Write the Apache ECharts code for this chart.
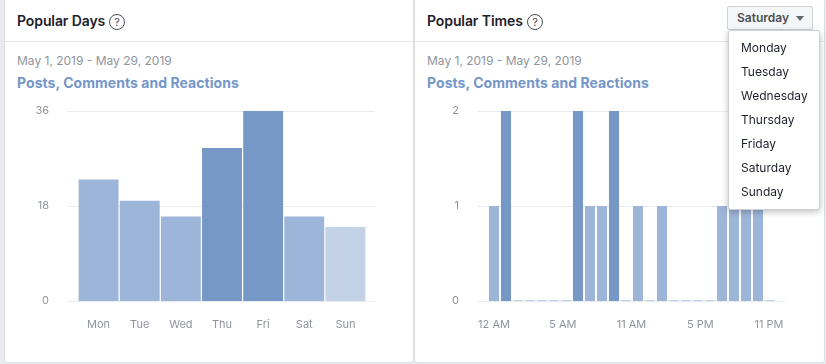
<!DOCTYPE html>
<html>
<head>
<meta charset="utf-8">
<title>Popular Days and Times</title>
<script src="https://cdn.jsdelivr.net/npm/echarts@6/dist/echarts.min.js"></script>
<style>
  html, body { margin: 0; padding: 0; background: #e9ebee; }
  body { width: 826px; height: 364px; position: relative; overflow: hidden; font-family: Inter, "Liberation Sans", sans-serif; }
  .card { position: absolute; top: -2px; height: 365px; background: #fff; border: 1px solid #dddfe2; border-radius: 3px; box-sizing: border-box; }
  .card.left { left: 4px; width: 410px; }
  .card.right { left: 414px; width: 411px; }
  .rule { position: absolute; top: 41px; height: 1px; background: #e5e6e9; }
  .head { position: absolute; top: 12px; font-size: 14px; line-height: 18px; font-weight: 600; color: #1d2129; letter-spacing: -0.1px; }
  .help { position: absolute; top: 2px; width: 14px; height: 14px; border: 1px solid #4b4f56; border-radius: 50%; font-size: 11px; line-height: 14px; text-align: center; font-weight: 400; color: #4b4f56; }
  .range { position: absolute; top: 53px; font-size: 12px; line-height: 16px; color: #90949c; }
  .sub { position: absolute; top: 74px; font-size: 14px; line-height: 18px; font-weight: 700; color: #7596c8; white-space: nowrap; letter-spacing: 0.05px; }
  #chart { position: absolute; left: 0; top: 0; width: 826px; height: 364px; }
  .btn { position: absolute; left: 727px; top: 6px; width: 86px; height: 24px; box-sizing: border-box; background: #f5f6f7; border: 1px solid #ced0d4; border-radius: 2px; font-size: 12px; line-height: 21px; font-weight: 600; color: #4b4f56; padding-left: 9px; }
  .btn i { position: absolute; left: 68px; top: 9px; border: 4px solid transparent; border-top: 5px solid #606770; border-bottom: 0; }
  .menu { position: absolute; left: 728px; top: 30px; width: 92px; height: 180px; box-sizing: border-box; background: #fff; border: 1px solid #ccd0d5; border-radius: 3px; box-shadow: 0 2px 6px rgba(0,0,0,.25); padding-top: 5px; }
  .menu div { height: 24px; line-height: 24px; font-size: 12px; color: #1d2129; padding-left: 12px; }
</style>
</head>
<body>
<div class="card left"></div>
<div class="card right"></div>
<div class="rule" style="left:5px;width:408px"></div>
<div class="rule" style="left:415px;width:409px"></div>
<div class="head" style="left:17px">Popular Days<span class="help" style="left:92px">?</span></div>
<div class="head" style="left:427px">Popular Times<span class="help" style="left:100px">?</span></div>
<div class="range" style="left:17px">May 1, 2019 - May 29, 2019</div>
<div class="range" style="left:427px">May 1, 2019 - May 29, 2019</div>
<div class="sub" style="left:17px">Posts, Comments and Reactions</div>
<div class="sub" style="left:427px">Posts, Comments and Reactions</div>
<div id="chart"></div>
<div class="btn">Saturday<i></i></div>
<div class="menu" id="menu"></div>
<script>
const dayLabels = ['Mon', 'Tue', 'Wed', 'Thu', 'Fri', 'Sat', 'Sun']
const dayValues = [23, 19, 16, 29, 36, 16, 14]
const dayTicks = [0, 18, 36]

const hourLabels = ['12 AM', '1 AM', '2 AM', '3 AM', '4 AM', '5 AM', '6 AM', '7 AM', '8 AM', '9 AM', '10 AM', '11 AM',
  '12 PM', '1 PM', '2 PM', '3 PM', '4 PM', '5 PM', '6 PM', '7 PM', '8 PM', '9 PM', '10 PM', '11 PM']
const hourValues = [1, 2, 0, 0, 0, 0, 0, 2, 1, 1, 2, 0, 1, 0, 1, 0, 0, 0, 0, 1, 1, 1, 1, 0]
const hourTicks = ['12 AM', '5 AM', '11 AM', '5 PM', '11 PM']
const timeAxisTicks = [0, 1, 2]

const menuItems = ['Monday', 'Tuesday', 'Wednesday', 'Thursday', 'Friday', 'Saturday', 'Sunday']

document.getElementById('menu').innerHTML = menuItems.map(d => '<div>' + d + '</div>').join('')

const labelColor = '#90949c'
const font = 'Inter, "Liberation Sans", sans-serif'

// darker bars for the busier slots
function barColor(v, max) {
  const r = v / max
  if (r > 0.7) return '#7598c6'
  if (r > 0.4) return '#9db5d8'
  return '#c4d2e7'
}

function barItems(values) {
  const max = Math.max(...values)
  return values.map(v => ({
    value: v,
    itemStyle: { color: barColor(v, max) },
  }))
}

function tickAxis(gridIndex, max, interval) {
  return {
    type: 'value',
    gridIndex,
    min: 0,
    max,
    interval,
    axisLine: { show: false },
    axisTick: { show: false },
    axisLabel: { color: labelColor, fontSize: 11, fontFamily: font, margin: 18, padding: [2, 0, 0, 0] },
    splitLine: { lineStyle: { color: '#e9ebee', width: 1 } },
  }
}

function hiddenValueAxis(gridIndex, max) {
  return { type: 'value', gridIndex, min: 0, max, show: false }
}

function catAxis(gridIndex, data, show, boundaryGap) {
  return {
    type: 'category',
    gridIndex,
    data,
    boundaryGap,
    show,
    axisLine: { show: false },
    axisTick: { show: false },
    axisLabel: { color: labelColor, fontSize: 11, fontFamily: font, margin: 18, interval: 0 },
  }
}

const chartInstance = echarts.init(document.getElementById('chart'))

const plotTop = 111
const plotHeight = 190

chartInstance.setOption({
  animation: false,
  grid: [
    { left: 67, width: 308, top: plotTop, height: plotHeight },   // day gridlines + y labels
    { left: 78, width: 288, top: plotTop, height: plotHeight },   // day bars + x labels
    { left: 477, width: 308, top: plotTop, height: plotHeight },  // time gridlines + y labels
    { left: 488, width: 288, top: plotTop, height: plotHeight },  // time bars
    { left: 494, width: 275, top: plotTop, height: plotHeight },  // time x labels
  ],
  xAxis: [
    catAxis(0, dayLabels, false, true),
    catAxis(1, dayLabels, true, true),
    catAxis(2, hourLabels, false, true),
    catAxis(3, hourLabels, false, true),
    catAxis(4, hourTicks, true, false),
  ],
  yAxis: [
    tickAxis(0, dayTicks[dayTicks.length - 1], dayTicks[1]),
    hiddenValueAxis(1, dayTicks[dayTicks.length - 1]),
    tickAxis(2, timeAxisTicks[timeAxisTicks.length - 1], timeAxisTicks[1]),
    hiddenValueAxis(3, timeAxisTicks[timeAxisTicks.length - 1]),
    hiddenValueAxis(4, timeAxisTicks[timeAxisTicks.length - 1]),
  ],
  series: [
    {
      type: 'bar',
      xAxisIndex: 1,
      yAxisIndex: 1,
      barWidth: '97%',
      data: barItems(dayValues),
    },
    {
      type: 'bar',
      xAxisIndex: 3,
      yAxisIndex: 3,
      barWidth: '84%',
      barMinHeight: 1,
      data: barItems(hourValues),
    },
  ],
})
</script>
</body>
</html>
